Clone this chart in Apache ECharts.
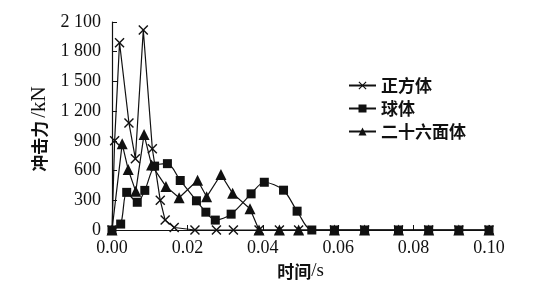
<!DOCTYPE html>
<html>
<head>
<meta charset="utf-8">
<script src="https://cdn.jsdelivr.net/npm/echarts@6/dist/echarts.min.js"></script>
<style>
  html, body { margin: 0; padding: 0; background: #fff; }
  #main { width: 551px; height: 299px; }
</style>
</head>
<body>
<div id="main"></div>
<script>
// time (s) and impact force (kN)
let cubeT = [0, 0.0007, 0.002, 0.0045, 0.0062, 0.0083, 0.0107, 0.0128, 0.0141, 0.0165, 0.022, 0.0277, 0.0322, 0.039, 0.0444, 0.0495, 0.059, 0.067, 0.076, 0.084, 0.092, 0.1];
let cubeF = [0, 900, 1890, 1080, 720, 2020, 820, 300, 100, 25, 0, 0, 0, 0, 0, 0, 0, 0, 0, 0, 0, 0];

let sphereT = [0, 0.0023, 0.0039, 0.0067, 0.0087, 0.0113, 0.0147, 0.0181, 0.0224, 0.0249, 0.0274, 0.0316, 0.0369, 0.0404, 0.0455, 0.0491, 0.053, 0.059, 0.067, 0.076, 0.084, 0.092, 0.1];
let sphereF = [0, 60, 380, 280, 400, 645, 670, 500, 295, 180, 100, 160, 365, 482, 402, 190, 0, 0, 0, 0, 0, 0, 0];

let icosT = [0, 0.0027, 0.0043, 0.0063, 0.0085, 0.0105, 0.0143, 0.0178, 0.0227, 0.0251, 0.0289, 0.032, 0.0366, 0.039, 0.0444, 0.0495, 0.059, 0.067, 0.076, 0.084, 0.092, 0.1];
let icosF = [0, 870, 610, 390, 965, 655, 440, 325, 502, 335, 560, 370, 215, 0, 0, 0, 0, 0, 0, 0, 0, 0];

let seriesNames = ['正方体', '球体', '二十六面体'];

function pairs(t, f) {
    return t.map(function (v, i) { return [v, f[i]]; });
}

const crossSymbol = 'path://M0,1L1,0L5,4L9,0L10,1L6,5L10,9L9,10L5,6L1,10L0,9L4,5Z';
const ink = '#111';
const serif = '"Liberation Serif", "Times New Roman", serif';
const cjk = '"Noto Sans CJK SC", sans-serif';

let chart = echarts.init(document.getElementById('main'));

function lineSeries(name, data, symbol, size, smooth) {
    return {
        name: name,
        type: 'line',
        data: data,
        symbol: symbol,
        symbolSize: size,
        smooth: smooth,
        showAllSymbol: true,
        lineStyle: { color: ink, width: 1.2 },
        itemStyle: { color: ink },
        animation: false
    };
}

let option = {
    animation: false,
    backgroundColor: '#fff',
    grid: { left: 112, right: 62, top: 22, bottom: 69 },
    legend: {
        orient: 'vertical',
        left: 343,
        top: 72,
        itemWidth: 27,
        itemHeight: 10,
        itemGap: 6,
        data: seriesNames,
        textStyle: { fontFamily: cjk, fontWeight: 'bold', fontSize: 17, color: ink }
    },
    xAxis: {
        type: 'value',
        min: 0,
        max: 0.1,
        interval: 0.02,
        name: '{a|时间}{b|/s}',
        nameLocation: 'middle',
        nameGap: 32,
        nameTextStyle: {
            rich: {
                a: { fontFamily: cjk, fontWeight: 'bold', fontSize: 17, color: ink },
                b: { fontFamily: serif, fontSize: 19, color: ink }
            }
        },
        axisLine: { lineStyle: { color: ink, width: 1.2 } },
        axisTick: { inside: true, length: 5, lineStyle: { color: ink } },
        axisLabel: {
            fontFamily: serif, fontSize: 18, color: ink, margin: 9,
            formatter: function (v) { return v.toFixed(2); }
        },
        splitLine: { show: false }
    },
    yAxis: {
        type: 'value',
        min: 0,
        max: 2100,
        interval: 300,
        name: '{a|冲击力}{b|/kN}',
        nameLocation: 'middle',
        nameRotate: 90,
        nameGap: 62,
        nameTextStyle: {
            padding: [0, 6, 0, 0],
            rich: {
                a: { fontFamily: cjk, fontWeight: 'bold', fontSize: 17, color: ink },
                b: { fontFamily: serif, fontSize: 21, color: ink, padding: [0, 0, 0, 3] }
            }
        },
        axisLine: { show: true, lineStyle: { color: ink, width: 1.2 } },
        axisTick: { show: true, inside: true, length: 5, lineStyle: { color: ink } },
        axisLabel: {
            fontFamily: serif, fontSize: 18, color: ink, margin: 11,
            formatter: function (v) {
                return String(v).replace(/\B(?=(\d{3})+(?!\d))/g, ' ');
            }
        },
        splitLine: { show: false }
    },
    series: [
        lineSeries(seriesNames[1], pairs(sphereT, sphereF), 'rect', 9, 0.3),
        lineSeries(seriesNames[2], pairs(icosT, icosF), 'triangle', 11, false),
        lineSeries(seriesNames[0], pairs(cubeT, cubeF), crossSymbol, 10, false)
    ]
};
chart.setOption(option);
</script>
</body>
</html>
